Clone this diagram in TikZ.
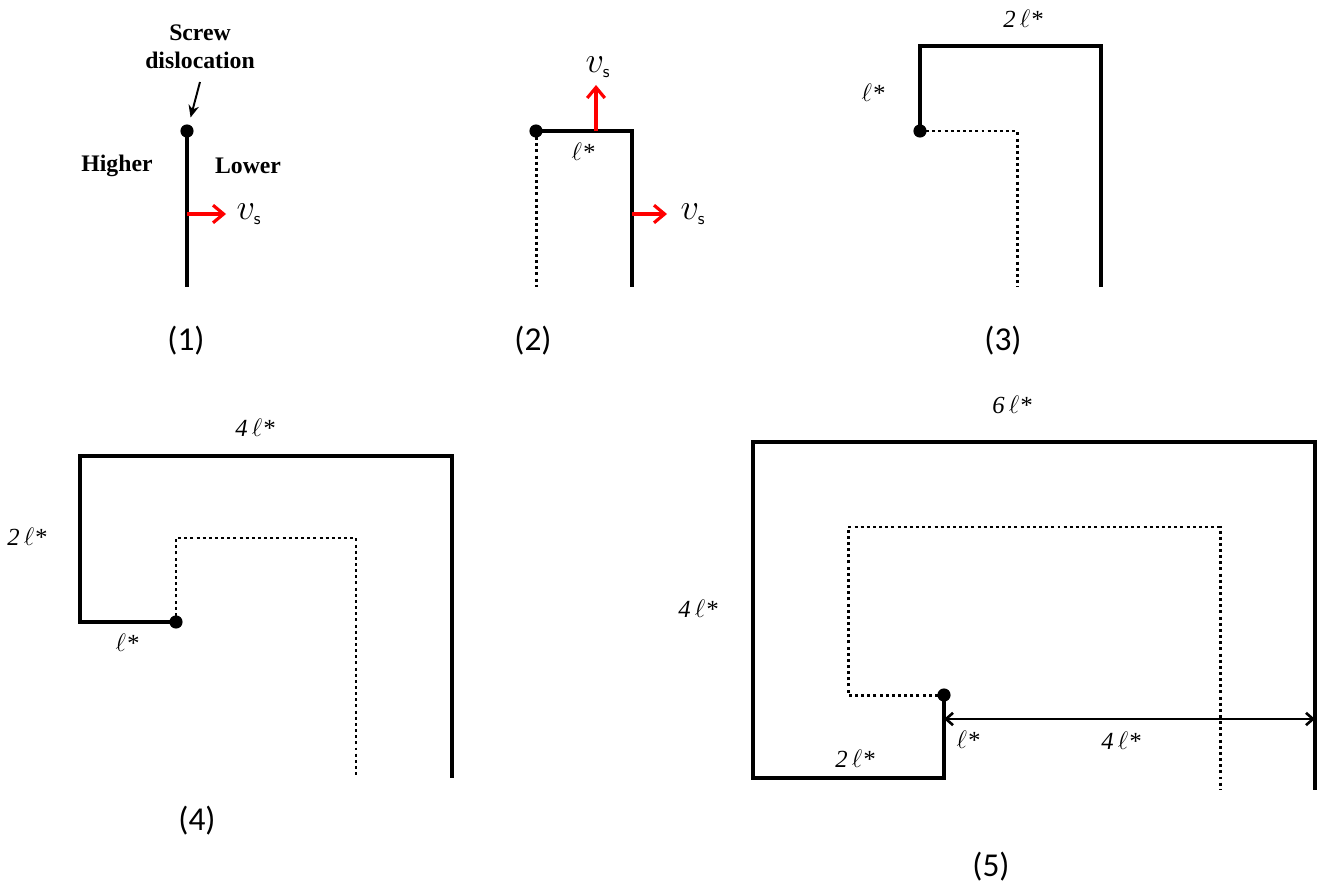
\documentclass[tikz,border=0pt]{standalone}
\usepackage{fontspec}
\setmainfont{Liberation Serif}
\newfontfamily\stagefont{Carlito}
\usepackage{tikz}
\usetikzlibrary{arrows.meta, positioning}

\tikzset{
  wall/.style={line width=1.8pt, line join=miter},
  trail/.style={line width=1.7pt, dash pattern=on 1.7pt off 1.8pt},
  velo/.style={red, line width=1.8pt, -{Straight Barb[length=6pt, width=10pt]}},
  core/.style={circle, fill=black, inner sep=0pt, minimum size=7.5pt},
  stage/.style={font=\stagefont\fontsize{19}{22}\selectfont},
  lenlbl/.style={font=\fontsize{14}{16}\selectfont\itshape},
  sidelbl/.style={font=\fontsize{13.5}{16}\selectfont\bfseries},
  vlbl/.style={font=\fontsize{20}{24}\selectfont},
}

\begin{document}
\begin{tikzpicture}[x=0.02cm, y=-0.02cm]
    \useasboundingbox (0,0) rectangle (1318,892);

    % (1) straight screw dislocation
    \node[core] (d1) at (187,131) {};
    \coordinate (d1end) at (187,287);
    \draw[wall] (d1.center) -- (d1end);
    \node[sidelbl, align=center] (screw) at (200,47) {Screw\\dislocation};
    \coordinate (tail1) at (200,82);
    \draw[-{Stealth[length=7pt, width=6pt]}, line width=1.1pt, shorten >=4pt] (tail1) -- (d1);
    \node[sidelbl] (higher) at (117,166) {Higher};
    \node[sidelbl] (lower) at (248,166) {Lower};
    \coordinate (v1a) at (187,214);
    \coordinate (v1b) at (226,214);
    \draw[velo] (v1a) -- (v1b);
    \node[vlbl] (v1) at (249,214) {$v_{\scriptscriptstyle\mathsf{s}}$};
    \node[stage] (s1) at (186,341) {(1)};

    % (2) first step
    \node[core] (d2) at (536,131) {};
    \coordinate (c2) at (632,131);
    \coordinate (c2end) at (632,287);
    \coordinate (d2end) at (536,287);
    \draw[wall] (d2.center) -- (c2) -- (c2end);
    \draw[trail] (d2.center) -- (d2end);
    \coordinate (v2a) at (596,131);
    \coordinate (v2b) at (596,85);
    \draw[velo] (v2a) -- (v2b);
    \node[vlbl] (v2) at (598,67) {$v_{\scriptscriptstyle\mathsf{s}}$};
    \coordinate (v3a) at (632,214);
    \coordinate (v3b) at (667,214);
    \draw[velo] (v3a) -- (v3b);
    \node[vlbl] (v3) at (693,214) {$v_{\scriptscriptstyle\mathsf{s}}$};
    \node[lenlbl] (l2) at (583,152) {$\ell$*};
    \node[stage] (s2) at (533,341) {(2)};

    % (3) second step
    \node[core] (d3) at (920,131) {};
    \coordinate (c3a) at (920,46);
    \coordinate (c3b) at (1101,46);
    \coordinate (c3end) at (1101,287);
    \coordinate (t3a) at (1017,131);
    \coordinate (t3end) at (1017,287);
    \draw[wall] (d3.center) -- (c3a) -- (c3b) -- (c3end);
    \draw[trail] (d3.center) -- (t3a) -- (t3end);
    \node[lenlbl] (l3top) at (1023,19) {2\,$\ell$*};
    \node[lenlbl] (l3side) at (873,93) {$\ell$*};
    \node[stage] (s3) at (1003,341) {(3)};

    % (4) third step
    \node[core] (d4) at (176,622) {};
    \coordinate (c4a) at (80,622);
    \coordinate (c4b) at (80,456);
    \coordinate (c4c) at (452,456);
    \coordinate (c4end) at (452,778);
    \coordinate (t4a) at (176,538);
    \coordinate (t4b) at (356,538);
    \coordinate (t4end) at (356,778);
    \draw[wall] (d4.center) -- (c4a) -- (c4b) -- (c4c) -- (c4end);
    \draw[trail] (d4.center) -- (t4a) -- (t4b) -- (t4end);
    \node[lenlbl] (l4top) at (255,428) {4\,$\ell$*};
    \node[lenlbl] (l4side) at (27,537) {2\,$\ell$*};
    \node[lenlbl] (l4low) at (127,643) {$\ell$*};
    \node[stage] (s4) at (197,821) {(4)};

    % (5) fourth step, with spacing
    \node[core] (d5) at (944,695) {};
    \coordinate (c5a) at (944,778);
    \coordinate (c5b) at (753,778);
    \coordinate (c5c) at (753,442);
    \coordinate (c5d) at (1315,442);
    \coordinate (c5end) at (1315,790);
    \coordinate (t5a) at (848,695);
    \coordinate (t5b) at (848,527);
    \coordinate (t5c) at (1220,527);
    \coordinate (t5end) at (1220,790);
    \draw[wall] (d5.center) -- (c5a) -- (c5b) -- (c5c) -- (c5d) -- (c5end);
    \draw[trail] (d5.center) -- (t5a) -- (t5b) -- (t5c) -- (t5end);
    \coordinate (m5a) at (944,719);
    \coordinate (m5b) at (1315,719);
    \draw[{Straight Barb[length=4pt, width=7pt]}-{Straight Barb[length=4pt, width=7pt]}, line width=1.5pt] (m5a) -- (m5b);
    \node[lenlbl] (l5top) at (1012,405) {6\,$\ell$*};
    \node[lenlbl] (l5side) at (698,609) {4\,$\ell$*};
    \node[lenlbl] (l5low) at (855,759) {2\,$\ell$*};
    \node[lenlbl] (l5gap) at (968,740) {$\ell$*};
    \node[lenlbl] (l5span) at (1121,741) {4\,$\ell$*};
    \node[stage] (s5) at (991,867) {(5)};
\end{tikzpicture}
\end{document}
